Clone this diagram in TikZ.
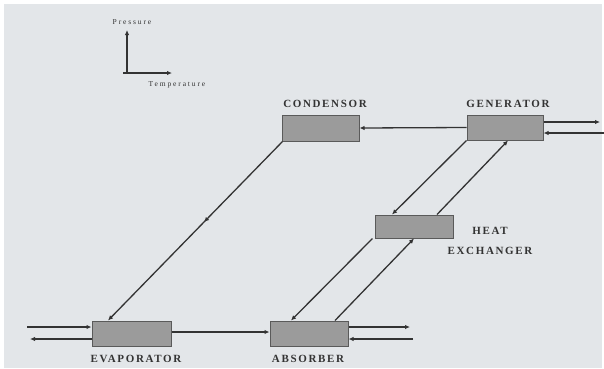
\documentclass[tikz,border=0pt]{standalone}
\usepackage{fontspec}
\usetikzlibrary{arrows.meta,decorations.markings,calc}
\newfontfamily\lblfont[LetterSpace=15]{Liberation Serif}
\newfontfamily\axfont[LetterSpace=25]{Liberation Serif}
\definecolor{bggray}{HTML}{E3E6E9}
\definecolor{boxfill}{HTML}{9B9B9B}
\definecolor{boxline}{HTML}{5A5A5A}
\definecolor{linec}{HTML}{333333}
\tikzset{
  tip/.tip={Latex[length=5pt,width=4.5pt]},
  unit/.style={draw=boxline, fill=boxfill, line width=1pt, inner sep=0pt},
  lbl/.style={font=\lblfont\fontsize{11}{12}\selectfont\bfseries, text=linec, inner sep=0pt},
  axlbl/.style={font=\axfont\fontsize{7.5}{8}\selectfont, text=linec, inner sep=0pt},
  flow/.style={draw=linec, line width=1.3pt, -tip},
  midarrow/.style={draw=linec, line width=1.3pt, -tip, postaction={decorate},
    decoration={markings, mark=at position 0.45 with {\arrow{tip}}}}
}
\begin{document}
\begin{tikzpicture}[x=1pt,y=-1pt]
\useasboundingbox (0,0) rectangle (604,368);
\fill[white] (0,0) rectangle (604,368);
\fill[bggray] (4,4) rectangle (602,368);

% axes
\coordinate (orig) at (127,73);
\coordinate (ptop) at (127,30);
\coordinate (tend) at (172,73);
\draw[flow] ([xshift=-4pt]orig) -- (tend);
\draw[flow] (orig) -- (ptop);
\node[axlbl] (plbl) at (132,22) {Pressure};
\node[axlbl] (tlbl) at (177,85) {Temperature};

% units
\node[unit, minimum width=77pt, minimum height=26pt] (cond) at (320.5,128) {};
\node[unit, minimum width=76pt, minimum height=25pt] (gen) at (505,127.5) {};
\node[unit, minimum width=78pt, minimum height=23pt] (hx) at (414,226.5) {};
\node[unit, minimum width=79pt, minimum height=25pt] (evap) at (131.5,333.5) {};
\node[unit, minimum width=78pt, minimum height=25pt] (abs) at (309,333.5) {};

% labels
\node[lbl] (condl) at (325,104) {CONDENSOR};
\node[lbl] (genl) at (508,104) {GENERATOR};
\node[lbl] (hxl1) at (490,231) {HEAT};
\node[lbl] (hxl2) at (490,251) {EXCHANGER};
\node[lbl] (evapl) at (136,359) {EVAPORATOR};
\node[lbl] (absl) at (308,359) {ABSORBER};

% generator -> condensor
\draw[flow] (gen.west) -- (cond.east);
% generator external lines
\coordinate (gout) at (600,122);
\coordinate (gin) at (604,133);
\draw[flow] (gen.east |- gout) -- (gout);
\draw[flow] (gin) -- (gen.east |- gin);

% condensor -> evaporator
\draw[midarrow] ([xshift=1pt]cond.south west) -- ([xshift=-23.5pt]evap.north);

% generator -> heat exchanger
\draw[flow] (gen.south west) -- ([xshift=-22pt]hx.north);
% heat exchanger -> generator
\draw[flow] ([xshift=23pt]hx.north) -- ([xshift=3pt]gen.south);
% heat exchanger -> absorber
\draw[flow] ([xshift=-2pt]hx.south west) -- ([xshift=-18pt]abs.north);
% absorber -> heat exchanger
\draw[flow] ([xshift=26pt]abs.north) -- (hx.south);

% evaporator -> absorber
\draw[flow] (evap.east |- 0,332) -- (abs.west |- 0,332);

% evaporator external
\coordinate (ein) at (27,327);
\coordinate (eout) at (30,339);
\draw[flow] (ein) -- (evap.west |- ein);
\draw[flow] (evap.west |- eout) -- (eout);

% absorber external
\coordinate (aout) at (410,327);
\coordinate (ain) at (413,339);
\draw[flow] (abs.east |- aout) -- (aout);
\draw[flow] (ain) -- (abs.east |- ain);
\end{tikzpicture}
\end{document}
